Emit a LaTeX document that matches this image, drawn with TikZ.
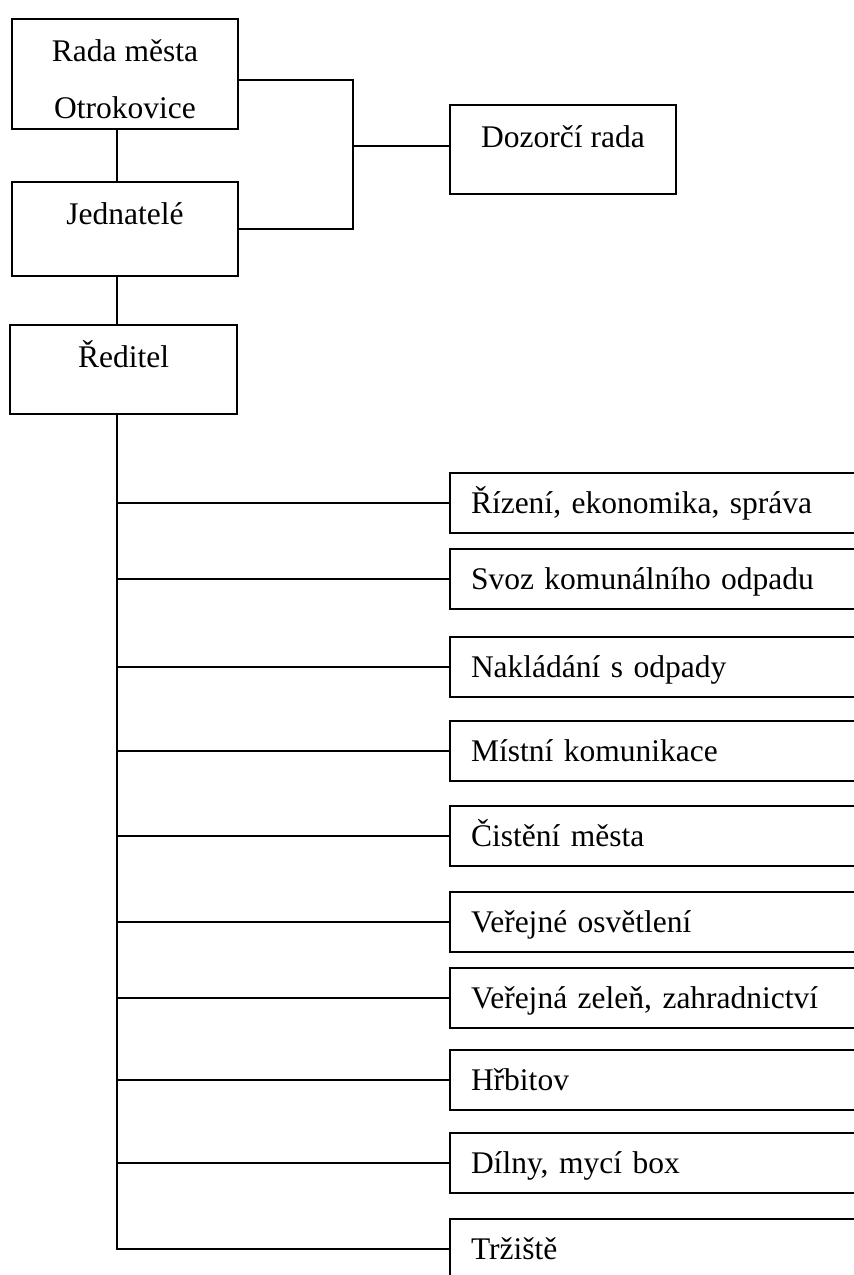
\documentclass[tikz,border=0pt]{standalone}
\usepackage{fontspec}
\setmainfont{Liberation Serif}
\usetikzlibrary{calc}

\begin{document}
\begin{tikzpicture}[
  x=0.5pt, y=-0.5pt,
  every node/.style={font=\fontsize{15.75}{28.5}\selectfont},
  headbox/.style={draw, line width=1pt, anchor=north west, inner sep=0pt,
    minimum width=113pt, align=center, text height=21pt},
  unitbox/.style={draw, line width=1pt, anchor=west, inner xsep=10.5pt, inner ysep=0pt,
    text width=189pt, align=left, minimum height=30pt, text height=12pt, text depth=1.6pt},
  link/.style={line width=1pt}
]
  \useasboundingbox (0,0) rectangle (854,1275);
  \clip (0,0) rectangle (854,1275);

  % --- management chain
  \node[headbox, text height=49.5pt, text depth=5.5pt] (rada) at (11,18) {Rada města\\Otrokovice};
  \node[headbox, text depth=26pt] (jed)  at (11,181) {Jednatelé};
  \node[headbox, text depth=23.5pt, minimum width=113.5pt] (red) at (9,324) {Ředitel};
  \node[headbox, text depth=23.5pt] (dozor) at (449,104) {Dozorčí rada};

  \coordinate (fork)  at (353,146);
  \coordinate (spine) at (117,1249);

  \draw[link] ([yshift=-3pt]rada.east) -| (fork) |- (jed.east);
  \draw[link] (fork) -- (fork -| dozor.west);
  \draw[link] (rada.south -| spine) -- (jed.north -| spine);
  \draw[link] (jed.south -| spine) -- (red.north -| spine);

  % --- departments under the director
  \foreach \y/\txt [count=\i] in {
      503/{Řízení, ekonomika, správa},
      579/{Svoz komunálního odpadu},
      667/{Nakládání s odpady},
      751/{Místní komunikace},
      836/{Čistění města},
      922/{Veřejné osvětlení},
      998/{Veřejná zeleň, zahradnictví},
      1080/{Hřbitov},
      1163/{Dílny, mycí box},
      1249/{Tržiště}} {
    \node[unitbox] (u\i) at (449,\y) {\txt};
    \draw[link] (spine |- u\i.west) -- (u\i.west);
  }
  \draw[link] (red.south -| spine) -- (spine) -- (u10.west);
\end{tikzpicture}
\end{document}
